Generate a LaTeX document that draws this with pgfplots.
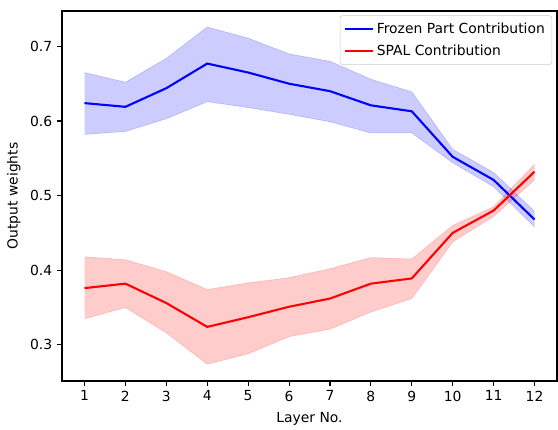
\documentclass[border=0pt]{standalone}
\usepackage{pgfplots}
\usepackage{pgfplotstable}
\pgfplotsset{compat=1.18}
\usepgfplotslibrary{fillbetween}
\usepackage{fontspec}
\setmainfont{DejaVu Sans}

\pgfplotstableread{
x mb ub lb mr ur lr
1  0.624 0.665 0.582 0.376 0.418 0.335
2  0.619 0.652 0.586 0.382 0.414 0.350
3  0.644 0.684 0.603 0.356 0.398 0.316
4  0.677 0.726 0.626 0.324 0.374 0.274
5  0.665 0.711 0.618 0.337 0.383 0.288
6  0.650 0.690 0.609 0.351 0.390 0.311
7  0.640 0.680 0.599 0.362 0.402 0.321
8  0.621 0.656 0.584 0.382 0.417 0.344
9  0.613 0.639 0.584 0.389 0.415 0.362
10 0.552 0.562 0.544 0.450 0.460 0.438
11 0.521 0.531 0.512 0.480 0.485 0.472
12 0.468 0.479 0.458 0.532 0.542 0.521
}\data

\begin{document}
\begin{tikzpicture}
\begin{axis}[
  at={(0pt,0pt)}, anchor=south west,
  width=356.4pt, height=266.4pt, scale only axis,
  xmin=0.45, xmax=12.55, ymin=0.2515, ymax=0.7475,
  xtick={1,...,12}, ytick={0.3,0.4,0.5,0.6,0.7},
  yticklabel style={/pgf/number format/fixed,/pgf/number format/precision=1,/pgf/number format/fixed zerofill},
  /pgf/number format/assume math mode=true,
  tick align=outside, tick pos=left,
  major tick length=3.5pt,
  every tick/.style={black, line width=0.8pt},
  axis line style={line width=0.8pt},
  xlabel={Layer No.}, ylabel={Output weights},
  xlabel style={yshift=-1pt},
  legend style={at={(0.99,0.988)}, anchor=north east, draw=black!20, rounded corners=2pt, font=\fontsize{10}{12}\selectfont, row sep=3pt, inner sep=3pt},
  legend cell align=left,
  legend image code/.code={\draw[#1, line width=1.5pt] (0pt,0pt) -- (20pt,0pt);},
  label style={font=\fontsize{10}{12}\selectfont},
  tick label style={font=\fontsize{10}{12}\selectfont},
]
\addplot[name path=bu, draw=blue, draw opacity=0.2, forget plot] table[x=x,y=ub]{\data};
\addplot[name path=bl, draw=blue, draw opacity=0.2, forget plot] table[x=x,y=lb]{\data};
\addplot[fill=blue, fill opacity=0.2, forget plot] fill between[of=bu and bl];
\addplot[name path=ru, draw=red, draw opacity=0.2, forget plot] table[x=x,y=ur]{\data};
\addplot[name path=rl, draw=red, draw opacity=0.2, forget plot] table[x=x,y=lr]{\data};
\addplot[fill=red, fill opacity=0.2, forget plot] fill between[of=ru and rl];
\addplot[blue, line width=1.5pt] table[x=x,y=mb]{\data};
\addlegendentry{Frozen Part Contribution}
\addplot[red, line width=1.5pt] table[x=x,y=mr]{\data};
\addlegendentry{SPAL Contribution}
\end{axis}
\path (-44.64pt,-28.8pt) rectangle (357.1pt,274.3pt);
\end{tikzpicture}
\end{document}
